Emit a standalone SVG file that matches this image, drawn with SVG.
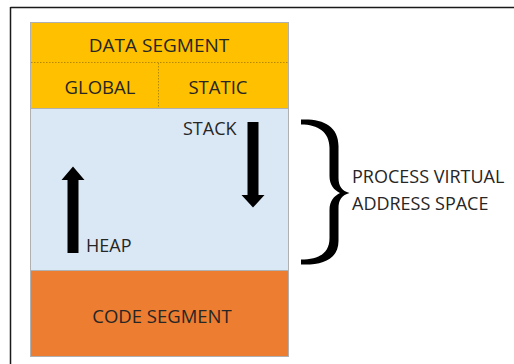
<svg xmlns="http://www.w3.org/2000/svg" width="514" height="364" viewBox="0 0 514 364">
<style>
.lbl{font-family:"Open Sans","Liberation Sans",sans-serif;fill:#262626;}
.seg{font-size:18.5px;text-anchor:middle;}
.sm{font-size:18px;}
.box{stroke:#b0b0b0;stroke-width:1;}
.dot{stroke:#b58a00;stroke-width:1;stroke-dasharray:1.5 1.5;fill:none;}
.arr{fill:#000;}
</style>
<rect x="0" y="0" width="514" height="364" fill="#fff"/>
<g id="frame" fill="none" stroke="#1a1a1a" stroke-width="1.5">
<path d="M10.5 7.5 H514 M10.5 7 V364"/>
</g>
<g id="data-segment">
<rect class="box" x="30.5" y="22.5" width="258" height="86" fill="#ffc000"/>
<text class="lbl seg" x="159" y="52" style="font-size:19px">DATA SEGMENT</text>
<path class="dot" d="M31 62.5 H288"/>
</g>
<g id="global">
<text class="lbl seg" x="100" y="94">GLOBAL</text>
</g>
<g id="static">
<path class="dot" d="M158.5 63 V108"/>
<text class="lbl seg" x="218" y="94">STATIC</text>
</g>
<g id="process-space">
<rect class="box" x="30.5" y="108.5" width="258" height="162" fill="#dae8f5"/>
<text class="lbl sm" x="183" y="135">STACK</text>
<text class="lbl sm" x="86" y="252">HEAP</text>
</g>
<g id="code-segment">
<rect class="box" x="30.5" y="270.5" width="258" height="86" fill="#ed7d31"/>
<text class="lbl seg" x="162" y="323">CODE SEGMENT</text>
</g>
<g id="connectors">
<path id="stack-arrow" class="arr" d="M247.5 122 H258.5 V195 H264.5 L253 207.5 L241.5 195 H247.5 Z"/>
<path id="heap-arrow" class="arr" d="M67.5 253 H78.5 V180 H84.5 L73 166.5 L61.5 180 H67.5 Z"/>
</g>
<g id="brace-label">
<path fill="#000" d="M301 119.5 C323 118.5 338.5 126 338.5 146 L338.5 178 C338.5 186 342 191 349.5 193 C342 195 338.5 200 338.5 208 L338.5 241 C338.5 259 323 265.5 301 264.5 L301 259.5 C318 259.5 329.5 254 329.5 238 L329.5 210 C329.5 201 334 196 340 193 C334 190 329.5 185 329.5 176 L329.5 148 C329.5 132 318 124.5 301 124.5 Z"/>
<text class="lbl sm" x="352" y="183">PROCESS VIRTUAL</text>
<text class="lbl sm" x="352" y="210">ADDRESS SPACE</text>
</g>
</svg>
